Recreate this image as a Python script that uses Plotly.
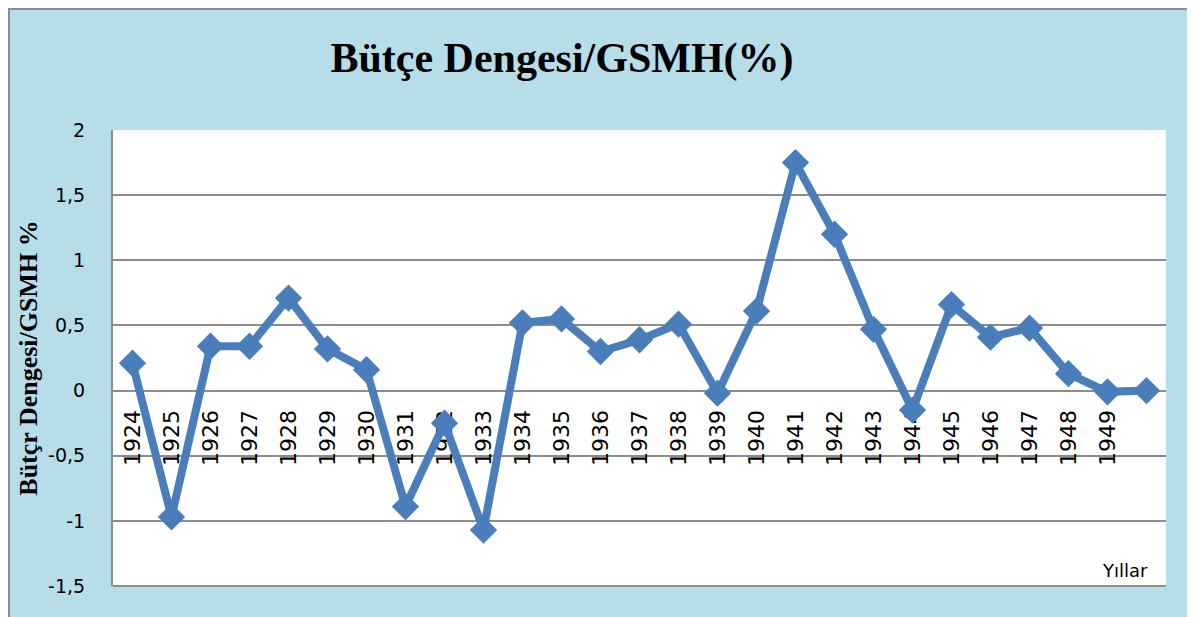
import plotly.graph_objects as go

years = [str(y) for y in range(1924, 1951)]
year_labels = years[:-1] + [""]
balance = [0.21, -0.97, 0.34, 0.34, 0.71, 0.32, 0.16, -0.89, -0.25, -1.07,
           0.52, 0.55, 0.30, 0.39, 0.51, -0.02, 0.61, 1.75, 1.20, 0.47,
           -0.15, 0.66, 0.41, 0.48, 0.13, -0.01, 0.00]
y_ticks = [-1.5, -1, -0.5, 0, 0.5, 1, 1.5, 2]
y_tick_labels = ["-1,5", "-1", "-0,5", "0", "0,5", "1", "1,5", "2"]

blue = "#4A7EBB"
grid = "#8C8C8C"

# the page body adds an 8px offset, so the figure is 8px smaller
W, H = 1187, 609
L, R, T, B = 105, 29, 122, 31
pw, ph = W - L - R, H - T - B

fig = go.Figure()
fig.add_trace(go.Scatter(
    x=years, y=balance, mode="lines+markers",
    line=dict(color=blue, width=8),
    marker=dict(symbol="diamond", size=21, color=blue),
    showlegend=False, cliponaxis=False,
))

fig.update_layout(
    width=W, height=H,
    margin=dict(l=L, r=R, t=T, b=B),
    paper_bgcolor="#B7DDE8", plot_bgcolor="white",
    title=dict(text="<b>Bütçe Dengesi/GSMH(%)</b>", x=554 / W, xref="container",
               xanchor="center", y=1 - 49 / H, yanchor="middle",
               font=dict(family="Liberation Serif", size=42, color="black")),
    xaxis=dict(type="category", range=[-0.5, 26.5], anchor="free", position=1.5 / 3.5,
               tickvals=years, ticktext=year_labels, tickangle=-90, ticks="",
               showgrid=False, showline=False, zeroline=False, layer="below traces",
               ticklabelstandoff=14,
               tickfont=dict(family="DejaVu Sans", size=22, color="black")),
    yaxis=dict(range=[-1.5, 2], tickvals=y_ticks, ticktext=y_tick_labels,
               showgrid=True, gridcolor=grid, gridwidth=1.5,
               zeroline=True, zerolinecolor=grid, zerolinewidth=1.5,
               showline=True, linecolor=grid, linewidth=2, ticks="",
               ticklabelstandoff=22,
               tickfont=dict(family="DejaVu Sans", size=19, color="black"),
               title=dict(text="<b>Bütçr Dengesi/GSMH %</b>", standoff=3,
                          font=dict(family="Liberation Serif", size=26, color="black"))),
    annotations=[dict(text="Yıllar", xref="paper", yref="paper", x=0.985, y=0.035,
                      xanchor="right", yanchor="middle", showarrow=False,
                      font=dict(family="DejaVu Sans", size=18, color="black"))],
    shapes=[
        dict(type="rect", xref="paper", yref="paper",
             x0=(1 - L) / pw, x1=(1186 - L) / pw,
             y0=-0.2, y1=(ph + T - 1) / ph,
             line=dict(color="#8C8C8C", width=2), layer="below"),
        dict(type="line", xref="paper", yref="paper", x0=0, x1=1, y0=0, y1=0,
             line=dict(color=grid, width=2)),
    ],
)

fig.write_html("out.html")
